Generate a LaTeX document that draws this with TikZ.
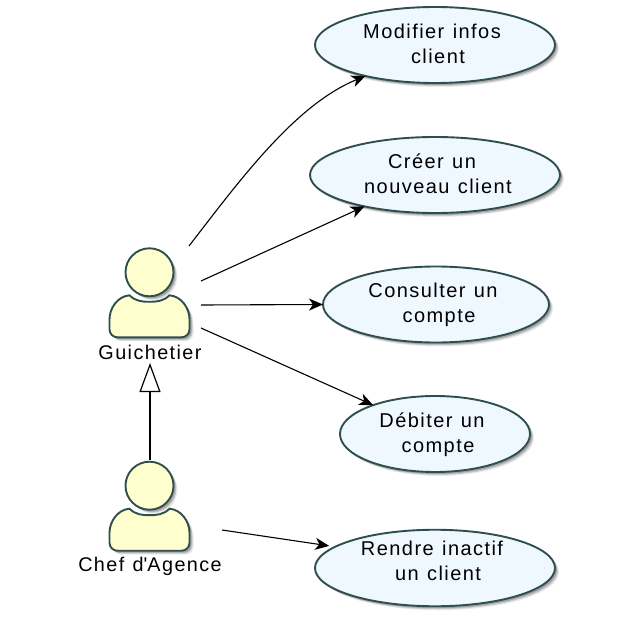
\documentclass[tikz,border=0pt]{standalone}
\usepackage{fontspec}
\setmainfont{Liberation Sans}[LetterSpace=7.2,WordSpace=1.2]
\usetikzlibrary{arrows.meta,shapes.geometric,shadows}
\definecolor{edgegreen}{HTML}{2F4F4F}
\definecolor{actorfill}{HTML}{FEFECE}
\definecolor{ucfill}{HTML}{F0F8FF}
\newcommand\ucl[2]{#1\hspace*{6pt}\\\hspace*{6pt}#2}
\tikzset{
  softshadow/.style={
    drop shadow={shadow xshift=4pt,shadow yshift=-4pt,opacity=.08,fill=black},
    drop shadow={shadow xshift=3pt,shadow yshift=-3pt,opacity=.14,fill=black},
    drop shadow={shadow xshift=2pt,shadow yshift=-2pt,opacity=.2,fill=black}},
  usecase/.style={ellipse,draw=edgegreen,line width=1.9pt,fill=ucfill,softshadow,
    minimum height=76pt,inner sep=0pt,outer sep=0pt,align=center,text depth=3pt,
    font=\fontsize{20pt}{24.6pt}\selectfont,text=black},
  actorpart/.style={draw=edgegreen,line width=1.9pt,fill=actorfill,softshadow},
  actorlabel/.style={inner sep=0pt,outer sep=0pt,font=\fontsize{19.8pt}{23pt}\selectfont,text=black},
  assoc/.style={draw=black,line width=1.1pt,-{Stealth[length=14pt,width=12pt,inset=4pt]}},
  generalize/.style={draw=black,line width=1.2pt,-{Triangle[open,length=29pt,width=21pt,fill=white]}},
  actor/.pic={
    \path[actorpart] (-20,23) .. controls (-14,29) and (-7,29.5) .. (0,29.5)
      .. controls (7,29.5) and (14,29) .. (20,23)
      .. controls (32,24) and (40,36) .. (40,47) -- (40,57)
      .. controls (40,62) and (36,65) .. (32,65) -- (-32,65)
      .. controls (-36,65) and (-40,62) .. (-40,57) -- (-40,47)
      .. controls (-40,36) and (-32,24) .. (-20,23) -- cycle;
    \path[actorpart] (0,0) circle[radius=24];
  }
}
\begin{document}
\begin{tikzpicture}[x=1pt,y=-1pt]
\useasboundingbox (0,0) rectangle (619,618);
\node[usecase,minimum width=240pt] (uc1) at (435,45) {\ucl{Modifier infos}{client}};
\node[usecase,minimum width=250pt] (uc2) at (435,175) {\ucl{Créer un}{nouveau client}};
\node[usecase,minimum width=226pt] (uc3) at (436,304.5) {\ucl{Consulter un}{compte}};
\node[usecase,minimum width=190pt] (uc4) at (435,434) {\ucl{Débiter un}{compte}};
\node[usecase,minimum width=240pt,text depth=15pt] (uc5) at (435,568) {\ucl{Rendre inactif}{un client}};
\pic (guichet) at (149.5,272.3) {actor};
\pic (chef) at (149.5,485.7) {actor};
\node[actorlabel] (lguichet) at (150,352.5) {Guichetier};
\node[actorlabel] (lchef) at (150,566) {Chef d\textquotesingle Agence};
\coordinate (ga) at (189,246);
\coordinate (gb) at (201,281);
\coordinate (gc) at (201,305);
\coordinate (gd) at (201,328);
\coordinate (ce) at (222,530);
\coordinate (ctop) at (150,460);
\coordinate (gbottom) at (150,363);
\draw[assoc] (ga) .. controls (240,180) and (295,105) .. (uc1.204);
\draw[assoc] (gb) -- (uc2.204);
\draw[assoc] (gc) -- (uc3.180);
\draw[assoc] (gd) -- (uc4.155);
\draw[assoc,shorten >=6pt] (ce) -- (uc5.168);
\draw[generalize] (ctop) -- (gbottom);
\end{tikzpicture}
\end{document}
